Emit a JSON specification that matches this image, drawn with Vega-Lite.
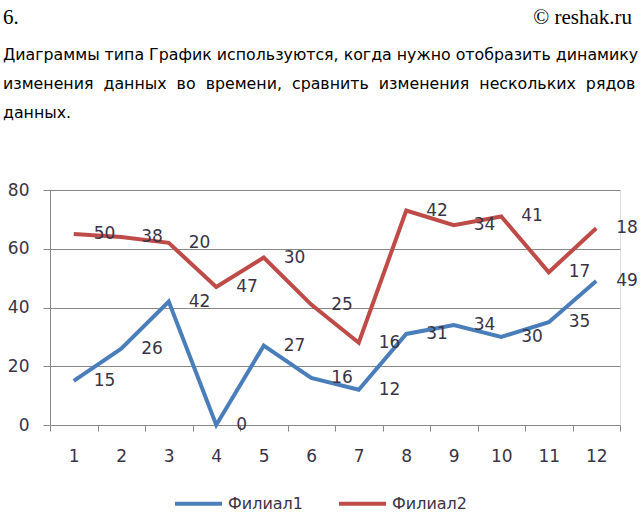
{
  "$schema": "https://vega.github.io/schema/vega-lite/v6.json",
  "width": 570,
  "height": 235,
  "autosize": {"type": "none"},
  "padding": {"left": 50, "top": 190, "right": 21, "bottom": 87},
  "background": "white",
  "title": {
    "text": "6.\u00a0\u00a0\u00a0\u00a0\u00a0\u00a0\u00a0\u00a0\u00a0\u00a0\u00a0\u00a0\u00a0\u00a0\u00a0\u00a0\u00a0\u00a0\u00a0\u00a0\u00a0\u00a0\u00a0\u00a0\u00a0\u00a0\u00a0\u00a0\u00a0\u00a0\u00a0\u00a0\u00a0\u00a0\u00a0\u00a0\u00a0\u00a0\u00a0\u00a0\u00a0\u00a0\u00a0\u00a0\u00a0\u00a0\u00a0\u00a0\u00a0\u00a0\u00a0\u00a0\u00a0\u00a0\u00a0\u00a0\u00a0\u00a0\u00a0\u00a0\u00a0\u00a0\u00a0\u00a0\u00a0\u00a0\u00a0\u00a0\u00a0\u00a0\u00a0\u00a0\u00a0\u00a0\u00a0\u00a0\u00a0\u00a0\u00a0\u00a0\u00a0\u00a0\u00a0\u00a0\u00a0\u00a0\u00a0\u00a0\u00a0\u00a0\u00a0\u00a0\u00a0\u00a0\u00a0\u00a0\u00a0\u00a0© reshak.ru",
    "subtitle": [
      "Диаграммы типа График используются, когда нужно отобразить динамику",
      "изменения \u00a0данных \u00a0во \u00a0времени, \u00a0сравнить \u00a0изменения \u00a0нескольких \u00a0рядов",
      "данных."
    ],
    "anchor": "start",
    "frame": "group",
    "dx": -47,
    "offset": 60,
    "font": "Liberation Serif",
    "fontSize": 21,
    "fontWeight": "normal",
    "color": "black",
    "subtitleFont": "DejaVu Sans",
    "subtitleFontSize": 15.8,
    "subtitleColor": "black",
    "subtitleLineHeight": 29,
    "subtitlePadding": 20
  },
  "data": {
    "values": [
      {"month": 1, "branch": "Филиал1", "value": 15},
      {"month": 2, "branch": "Филиал1", "value": 26},
      {"month": 3, "branch": "Филиал1", "value": 42},
      {"month": 4, "branch": "Филиал1", "value": 0},
      {"month": 5, "branch": "Филиал1", "value": 27},
      {"month": 6, "branch": "Филиал1", "value": 16},
      {"month": 7, "branch": "Филиал1", "value": 12},
      {"month": 8, "branch": "Филиал1", "value": 31},
      {"month": 9, "branch": "Филиал1", "value": 34},
      {"month": 10, "branch": "Филиал1", "value": 30},
      {"month": 11, "branch": "Филиал1", "value": 35},
      {"month": 12, "branch": "Филиал1", "value": 49},
      {"month": 1, "branch": "Филиал2", "value": 50},
      {"month": 2, "branch": "Филиал2", "value": 38},
      {"month": 3, "branch": "Филиал2", "value": 20},
      {"month": 4, "branch": "Филиал2", "value": 47},
      {"month": 5, "branch": "Филиал2", "value": 30},
      {"month": 6, "branch": "Филиал2", "value": 25},
      {"month": 7, "branch": "Филиал2", "value": 16},
      {"month": 8, "branch": "Филиал2", "value": 42},
      {"month": 9, "branch": "Филиал2", "value": 34},
      {"month": 10, "branch": "Филиал2", "value": 41},
      {"month": 11, "branch": "Филиал2", "value": 17},
      {"month": 12, "branch": "Филиал2", "value": 18}
    ]
  },
  "transform": [
    {"stack": "value", "groupby": ["month"], "sort": [{"field": "branch", "order": "ascending"}], "as": ["v0", "v1"]}
  ],
  "encoding": {
    "x": {
      "field": "month",
      "type": "ordinal",
      "scale": {"type": "band", "paddingInner": 0, "paddingOuter": 0},
      "bandPosition": 0.5,
      "axis": {
        "title": null,
        "labelAngle": 0,
        "tickBand": "extent",
        "domainColor": "#888888",
        "tickColor": "#888888",
        "tickSize": 6,
        "labelPadding": 17,
        "labelFont": "DejaVu Sans",
        "labelFontSize": 17,
        "labelColor": "#3a3345"
      }
    },
    "y": {
      "field": "v1",
      "type": "quantitative",
      "scale": {"domain": [0, 80], "nice": false},
      "axis": {
        "title": null,
        "values": [0, 20, 40, 60, 80],
        "grid": true,
        "gridColor": "#888888",
        "gridOpacity": 1,
        "domainColor": "#888888",
        "tickColor": "#888888",
        "tickSize": 7,
        "labelPadding": 14,
        "labelFont": "DejaVu Sans",
        "labelFontSize": 17,
        "labelColor": "#3a3345"
      }
    }
  },
  "layer": [
    {
      "mark": {"type": "line", "strokeWidth": 4},
      "encoding": {
        "color": {
          "field": "branch",
          "type": "nominal",
          "scale": {"domain": ["Филиал1", "Филиал2"], "range": ["#4A7EBB", "#BE4B48"]},
          "legend": {
            "title": null,
            "orient": "none",
            "legendX": 123,
            "legendY": 288,
            "direction": "horizontal",
            "symbolType": "stroke",
            "symbolSize": 2209,
            "symbolStrokeWidth": 4,
            "labelFont": "DejaVu Sans",
            "labelFontSize": 16,
            "labelColor": "#3a3345",
            "labelOffset": 4,
            "columnPadding": 27
          }
        }
      }
    },
    {
      "mark": {"type": "text", "align": "left", "baseline": "middle", "dx": 20, "font": "DejaVu Sans", "fontSize": 17, "color": "#3a3345"},
      "encoding": {
        "detail": {"field": "branch"},
        "text": {"field": "value", "type": "quantitative"}
      }
    }
  ]
}
